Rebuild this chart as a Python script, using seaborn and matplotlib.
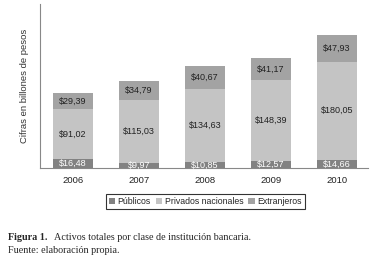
import matplotlib
matplotlib.use("Agg")
import matplotlib.pyplot as plt
import seaborn as sns
import pandas as pd
import numpy as np

years = ["2006", "2007", "2008", "2009", "2010"]
publicos = [16.48, 9.97, 10.85, 12.57, 14.66]
privados = [91.02, 115.03, 134.63, 148.39, 180.05]
extranjeros = [29.39, 34.79, 40.67, 41.17, 47.93]
series_names = ["Públicos", "Privados nacionales", "Extranjeros"]
colors = ["#828282", "#c4c4c4", "#a3a3a3"]

df = pd.DataFrame({"year": years, "pub": publicos, "priv": privados, "ext": extranjeros})
df["c1"] = df["pub"]
df["c2"] = df["pub"] + df["priv"]
df["c3"] = df["c2"] + df["ext"]

sns.set_style("white")
plt.rcParams["font.family"] = ["Liberation Sans", "DejaVu Sans"]

fig = plt.figure(figsize=(3.73, 2.58), dpi=100)
ax = fig.add_axes([0.107, 0.349, 0.88, 0.635])

# overlapping bars, tallest first
sns.barplot(data=df, x="year", y="c3", color=colors[2], width=0.6, ax=ax, saturation=1,
            label=series_names[2], linewidth=0)
sns.barplot(data=df, x="year", y="c2", color=colors[1], width=0.6, ax=ax, saturation=1,
            label=series_names[1], linewidth=0)
sns.barplot(data=df, x="year", y="c1", color=colors[0], width=0.6, ax=ax, saturation=1,
            label=series_names[0], linewidth=0)
handles, labels = ax.get_legend_handles_labels()
if ax.get_legend() is not None:
    ax.get_legend().remove()

for i in range(len(years)):
    ax.text(i, df["c1"][i] / 2, "$" + f"{publicos[i]:.2f}".replace(".", ","),
            ha="center", va="center", fontsize=6.5, color="white")
    ax.text(i, df["c1"][i] + privados[i] / 2, "$" + f"{privados[i]:.2f}".replace(".", ","),
            ha="center", va="center", fontsize=6.5, color="#222222")
    ax.text(i, df["c2"][i] + extranjeros[i] / 2, "$" + f"{extranjeros[i]:.2f}".replace(".", ","),
            ha="center", va="center", fontsize=6.5, color="#222222")

ax.set_ylim(0, 300)
ax.set_xlim(-0.5, 4.47)
ax.set_yticks([])
ax.set_xlabel("")
ax.set_ylabel("Cifras en billones de pesos", fontsize=6.8, color="#333333", labelpad=8)
ax.tick_params(axis="x", labelsize=6.8, colors="#222222", length=0, pad=6)
for s in ["top", "right"]:
    ax.spines[s].set_visible(False)
for s in ["left", "bottom"]:
    ax.spines[s].set_color("#888888")
    ax.spines[s].set_linewidth(0.8)

order = [labels.index(n) for n in series_names]
leg = fig.legend([handles[k] for k in order], series_names, loc="center",
                 bbox_to_anchor=(0.55, 0.218), ncol=3, fontsize=6.3, frameon=True,
                 handlelength=0.7, handleheight=0.7, handletextpad=0.3, columnspacing=0.6,
                 borderpad=0.35, fancybox=False, edgecolor="black")
leg.get_frame().set_linewidth(0.8)

fig.text(0.022, 0.078, "Figura 1.", fontsize=7.3, fontweight="bold", family="Liberation Serif", va="center")
fig.text(0.14, 0.078, " Activos totales por clase de institución bancaria.", fontsize=7.3,
         family="Liberation Serif", va="center")
fig.text(0.022, 0.03, "Fuente: elaboración propia.", fontsize=7.3, family="Liberation Serif", va="center")

fig.savefig("out.png", dpi=100)
